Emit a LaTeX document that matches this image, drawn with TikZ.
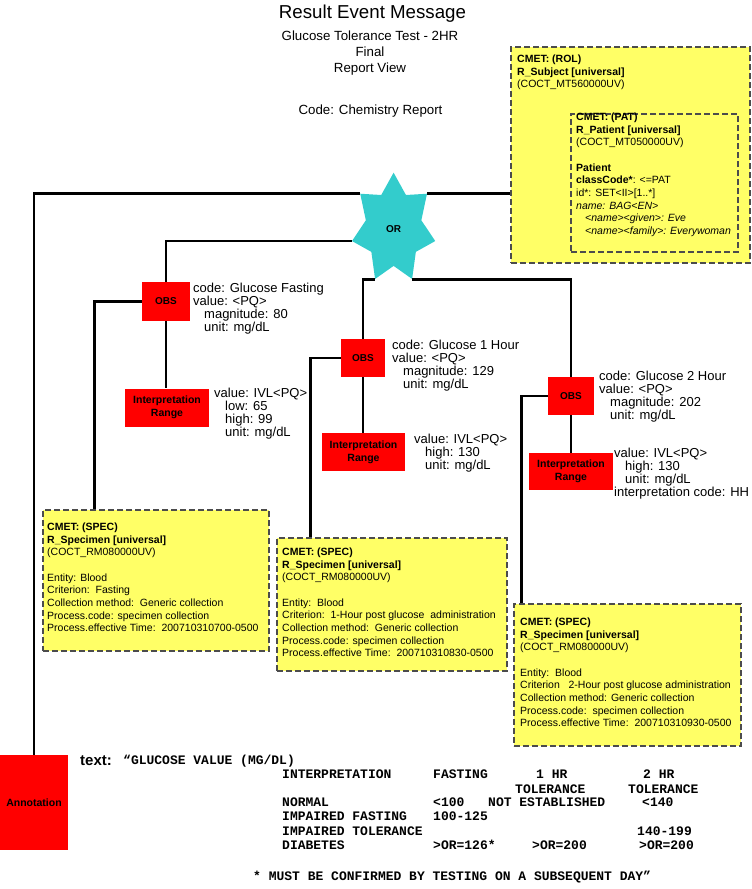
\documentclass[tikz,border=0pt]{standalone}
\usepackage{fontspec}
\setmainfont{Liberation Sans}
\setmonofont{Liberation Mono}
\usetikzlibrary{shapes.geometric}

\definecolor{cmetyellow}{RGB}{255,255,102}
\definecolor{orcyan}{RGB}{51,204,204}

\begin{document}
\begin{tikzpicture}[x=1pt, y=-1pt,
    conn/.style = {line width=2.6pt, black},
    obs/.style = {fill=red, inner sep=0pt, font=\fontsize{10}{12}\selectfont\bfseries},
    rng/.style = {fill=red, inner sep=0pt, minimum width=84pt, minimum height=38pt, align=center, font=\fontsize{10.5}{13}\selectfont\bfseries},
    cmet/.style = {fill=cmetyellow, draw=black!70, dash pattern=on 6pt off 3pt, line width=1.4pt, inner sep=0pt},
    small/.style = {anchor=north west, inner sep=0pt, align=left, font=\fontsize{10.5}{12.7}\selectfont},
    val/.style = {anchor=north west, inner sep=0pt, align=left, font=\fontsize{13}{13.2}\selectfont},
    mono/.style = {anchor=mid west, inner sep=0pt, font=\ttfamily\bfseries\fontsize{13}{14}\selectfont}]

    \useasboundingbox (0,0) rectangle (752,889);

    % Naslov
    \node[font=\fontsize{18.7}{22}\selectfont] (T) at (372.5,14) {Result Event Message};
    \node[align=center, font=\fontsize{13.3}{16}\selectfont] (T2) at (370,53) {Glucose Tolerance Test - 2HR\\ Final\\ Report View};
    \node[font=\fontsize{13.3}{16}\selectfont] (T3) at (370.5,111) {Code: Chemistry Report};

    % CMET okvirji
    \node[cmet, minimum width=239pt, minimum height=216pt] (ROL) at (630.5,155) {};
    \node[cmet, minimum width=167pt, minimum height=138pt] (PAT) at (654.5,183) {};
    \node[cmet, minimum width=226pt, minimum height=141pt] (S1) at (156,580.5) {};
    \node[cmet, minimum width=230pt, minimum height=133pt] (S2) at (392,604.5) {};
    \node[cmet, minimum width=227pt, minimum height=142pt] (S3) at (627.5,675) {};

    % Zvezda in rdeca vozlisca
    \node[star, star points=7, star point ratio=1.5, minimum size=85.4pt, inner sep=0pt, fill=orcyan, yscale=1.31] (OR) at (393.6,228.6) {};
    \node[font=\fontsize{10}{12}\selectfont\bfseries] at (OR.center) {OR};
    \node[obs, minimum width=48pt, minimum height=39pt] (O1) at (166,301.5) {OBS};
    \node[obs, minimum width=44pt, minimum height=38pt] (O2) at (363,358) {OBS};
    \node[obs, minimum width=46pt, minimum height=38pt] (O3) at (571,396) {OBS};
    \node[rng] (R1) at (167,407.5) {Interpretation\\ Range};
    \node[rng, minimum width=83pt] (R2) at (363.5,452) {Interpretation\\ Range};
    \node[rng, minimum height=37pt] (R3) at (571,471.5) {Interpretation\\ Range};
    \node[obs, minimum width=68pt, minimum height=95pt, font=\fontsize{10.5}{12}\selectfont\bfseries] (AN) at (34,802.5) {Annotation};

    % Povezave
    \draw[conn] (OR.outer point 2) -| (AN.north);
    \draw[conn] (OR.outer point 7) -- (OR.outer point 7 -| ROL.west);
    \draw[conn] (OR.outer point 3) -| (O1.north);
    \draw[conn] (OR.outer point 4) -| (O2.north);
    \draw[conn] (OR.outer point 5) -| (O3.north);
    \draw[conn] (O1.south) -- (O1.south |- R1.north);
    \draw[conn] (O2.south) -- (O2.south |- R2.north);
    \draw[conn] (O3.south) -- (O3.south |- R3.north);
    % Povezave do vzorcev
    \draw[conn] (O1.west) -| ([xshift=52pt]S1.north west);
    \draw[conn] (O2.west) -| ([xshift=34pt]S2.north west);
    \draw[conn] (O3.west) -| ([xshift=8pt]S3.north west);

    % Besedila v okvirjih
    \node[small] at (517,54.5) {\textbf{CMET: (ROL)}\\ \textbf{R\_Subject [universal]}\\ (COCT\_MT560000UV)};
    \node[small] at (576,112.5) {\textbf{CMET: (PAT)}\\ \textbf{R\_Patient [universal]}\\ (COCT\_MT050000UV)\\[12.7pt]
        \textbf{Patient}\\ \textbf{classCode*}: <=PAT\\ id*: SET<II>[1..*]\\ \textit{name: BAG<EN>}\\
        \hspace*{9pt}\textit{<name><given>: Eve}\\ \hspace*{9pt}\textit{<name><family>: Everywoman}};
    \node[small] at (47,522.5) {\textbf{CMET: (SPEC)}\\ \textbf{R\_Specimen [universal]}\\ (COCT\_RM080000UV)\\[12.7pt]
        Entity: Blood\\ Criterion:\ \ Fasting\\ Collection method:\ \ Generic collection\\
        Process.code: specimen collection\\ Process.effective Time:\ \ 200710310700-0500};
    \node[small] at (282,547.5) {\textbf{CMET: (SPEC)}\\ \textbf{R\_Specimen [universal]}\\ (COCT\_RM080000UV)\\[12.7pt]
        Entity:\ \ Blood\\ Criterion:\ \ 1-Hour post glucose\ \ administration\\ Collection method:\ \ Generic collection\\
        Process.code: specimen collection\\ Process.effective Time:\ \ 200710310830-0500};
    \node[small] at (520,617.5) {\textbf{CMET: (SPEC)}\\ \textbf{R\_Specimen [universal]}\\ (COCT\_RM080000UV)\\[12.7pt]
        Entity:\ \ Blood\\ Criterion\ \ \ 2-Hour post glucose administration\\ Collection method: Generic collection\\
        Process.code:\ \ specimen collection\\ Process.effective Time:\ \ 200710310930-0500};

    % Vrednosti
    \node[val] at (193,282.5) {code: Glucose Fasting\\ value: <PQ>\\ \hspace*{11pt}magnitude: 80\\ \hspace*{11pt}unit: mg/dL};
    \node[val] at (214,387.5) {value: IVL<PQ>\\ \hspace*{11pt}low: 65\\ \hspace*{11pt}high: 99\\ \hspace*{11pt}unit: mg/dL};
    \node[val] at (392,339.5) {code: Glucose 1 Hour\\ value: <PQ>\\ \hspace*{11pt}magnitude: 129\\ \hspace*{11pt}unit: mg/dL};
    \node[val] at (414,433.5) {value: IVL<PQ>\\ \hspace*{11pt}high: 130\\ \hspace*{11pt}unit: mg/dL};
    \node[val] at (599,370.5) {code: Glucose 2 Hour\\ value: <PQ>\\ \hspace*{11pt}magnitude: 202\\ \hspace*{11pt}unit: mg/dL};
    \node[val] at (614,447.5) {value: IVL<PQ>\\ \hspace*{11pt}high: 130\\ \hspace*{11pt}unit: mg/dL\\ interpretation code: HH};

    % Opomba
    \node[anchor=mid west, inner sep=0pt, font=\fontsize{15}{18}\selectfont\bfseries] (TX) at (80,763) {text:};
    \node[mono] at (123,762) {“GLUCOSE VALUE (MG/DL)};
    \node[mono] at (282,776) {INTERPRETATION};
    \node[mono] at (433,776) {FASTING};
    \node[mono] at (536,776) {1 HR};
    \node[mono] at (643,776) {2 HR};
    \node[mono] at (515,791) {TOLERANCE};
    \node[mono] at (628,791) {TOLERANCE};
    \node[mono] at (282,804) {NORMAL};
    \node[mono] at (433,804) {<100};
    \node[mono] at (488,804) {NOT ESTABLISHED};
    \node[mono] at (642,804) {<140};
    \node[mono] at (282,818) {IMPAIRED FASTING};
    \node[mono] at (433,818) {100-125};
    \node[mono] at (282,833) {IMPAIRED TOLERANCE};
    \node[mono] at (637,833) {140-199};
    \node[mono] at (282,847) {DIABETES};
    \node[mono] at (433,847) {>OR=126*};
    \node[mono] at (532,847) {>OR=200};
    \node[mono] at (639,847) {>OR=200};
    \node[mono] at (253,878) {* MUST BE CONFIRMED BY TESTING ON A SUBSEQUENT DAY”};

\end{tikzpicture}
\end{document}
